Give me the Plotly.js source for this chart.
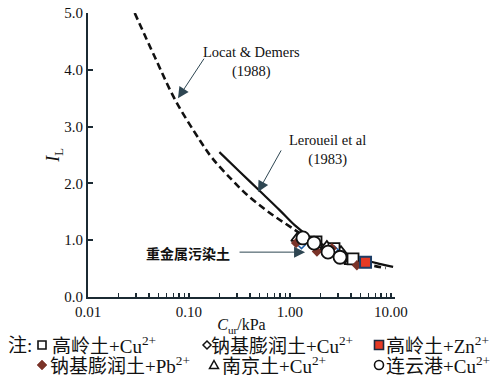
<!DOCTYPE html>
<html>
<head>
<meta charset="utf-8">
<script src="https://cdn.plot.ly/plotly-3.0.1.min.js"></script>
<style>html,body{margin:0;padding:0;background:#fff;}#chart{width:495px;height:376px;}</style>
</head>
<body>
<div id="chart"></div>
<script>
// ---- data ----
// Locat & Demers (1988), dashed curve
const locatCu = [0.029, 0.046, 0.073, 0.128, 0.169, 0.267, 0.375, 0.54, 0.73, 1.0, 1.5, 2.5, 4.0, 6.0, 8.9];
const locatIL = [5.0, 4.22, 3.47, 2.76, 2.45, 2.06, 1.80, 1.57, 1.40, 1.24, 1.03, 0.80, 0.66, 0.57, 0.51];
// Leroueil et al (1983), solid curve
const lerCu = [0.20, 0.316, 0.50, 0.79, 1.12, 1.58, 2.24, 3.16, 5.0, 7.9, 10.5];
const lerIL = [2.55, 2.21, 1.87, 1.53, 1.26, 1.05, 0.90, 0.79, 0.67, 0.58, 0.53];
// Heavy-metal contaminated soils
const kaoCuX = [1.81, 2.73, 4.21];           // 高岭土+Cu2+
const kaoCuY = [0.97, 0.85, 0.67];
const bentCuX = [1.30, 2.75];                // 钠基膨润土+Cu2+
const bentCuY = [0.92, 0.83];
const kaoZnX = [5.6];                        // 高岭土+Zn2+
const kaoZnY = [0.61];
const bentPbX = [1.15, 1.85, 2.6, 4.6];      // 钠基膨润土+Pb2+
const bentPbY = [0.95, 0.80, 0.86, 0.56];
const njX = [1.20, 2.32, 3.20, 4.02];        // 南京土+Cu2+
const njY = [1.04, 0.88, 0.79, 0.63];
const lygX = [1.345, 1.73, 2.38, 3.13];      // 连云港+Cu2+
const lygY = [1.04, 0.95, 0.79, 0.70];

const xMajor = [0.01, 0.1, 1, 10];
const xMajorText = ['0.01', '0.10', '1.00', '10.00'];
const xMinor = [0.02, 0.03, 0.04, 0.05, 0.06, 0.07, 0.08, 0.09,
                0.2, 0.3, 0.4, 0.5, 0.6, 0.7, 0.8, 0.9,
                2, 3, 4, 5, 6, 7, 8, 9];
const yTicks = [0, 1, 2, 3, 4, 5];
const yTickText = ['0.0', '1.0', '2.0', '3.0', '4.0', '5.0'];

const legendNames = ['高岭土+Cu<sup>2+</sup>', '钠基膨润土+Cu<sup>2+</sup>', '高岭土+Zn<sup>2+</sup>',
                     '钠基膨润土+Pb<sup>2+</sup>', '南京土+Cu<sup>2+</sup>', '连云港+Cu<sup>2+</sup>'];

// ---- layout helpers ----
const L = 88, R = 395, T = 13, B = 297;
const px = p => (p - L) / (R - L);
const py = p => (B - p) / (B - T);
const SERIF = 'Liberation Serif, Noto Sans CJK SC, serif';
const AX = '#1b2a33';

const traces = [
  {x: locatCu, y: locatIL, mode: 'lines', line: {color: '#111', width: 2.6, dash: '7px,4px', shape: 'spline', smoothing: 1}, hoverinfo: 'skip'},
  {x: lerCu, y: lerIL, mode: 'lines', line: {color: '#111', width: 2.2, shape: 'spline', smoothing: 1}, hoverinfo: 'skip'},
  {x: njX, y: njY, mode: 'markers', marker: {symbol: 'triangle-up', size: 12, color: 'white', line: {color: '#111', width: 1.8}}},
  {x: kaoCuX, y: kaoCuY, mode: 'markers', marker: {symbol: 'square', size: 11, color: 'white', line: {color: '#111', width: 1.8}}},
  {x: bentCuX, y: bentCuY, mode: 'markers', marker: {symbol: 'diamond', size: 6, color: 'white', line: {color: '#1f5fa8', width: 1.5}}},
  {x: bentPbX, y: bentPbY, mode: 'markers', marker: {symbol: 'diamond', size: 8, color: '#7a3328', line: {width: 0}}},
  {x: lygX, y: lygY, mode: 'markers', marker: {symbol: 'circle', size: 13, color: 'white', line: {color: '#111', width: 1.8}}},
  {x: kaoZnX, y: kaoZnY, mode: 'markers', marker: {symbol: 'square', size: 11, color: '#e63a25', line: {color: '#1c3d66', width: 2}}}
];

// legend markers (shapes, paper coords)
const shapes = [];
function sq(cx, cy, s, fill, line) {
  shapes.push({type: 'rect', xref: 'paper', yref: 'paper',
    x0: px(cx - s), x1: px(cx + s), y0: py(cy + s), y1: py(cy - s),
    fillcolor: fill, line: {color: line, width: 1.6}});
}
function dia(cx, cy, s, fill, line, lw) {
  shapes.push({type: 'path', xref: 'paper', yref: 'paper',
    path: `M${px(cx)},${py(cy - s)} L${px(cx + s)},${py(cy)} L${px(cx)},${py(cy + s)} L${px(cx - s)},${py(cy)} Z`,
    fillcolor: fill, line: {color: line, width: lw}});
}
function tri(cx, cy, s) {
  shapes.push({type: 'path', xref: 'paper', yref: 'paper',
    path: `M${px(cx)},${py(cy - s)} L${px(cx + s)},${py(cy + s * 0.8)} L${px(cx - s)},${py(cy + s * 0.8)} Z`,
    fillcolor: 'white', line: {color: '#111', width: 1.5}});
}
function circ(cx, cy, s) {
  shapes.push({type: 'circle', xref: 'paper', yref: 'paper',
    x0: px(cx - s), x1: px(cx + s), y0: py(cy + s), y1: py(cy - s),
    fillcolor: 'white', line: {color: '#111', width: 1.6}});
}
const r1 = 345, r2 = 365;
sq(42, r1, 4, 'white', '#111');
dia(207, r1, 4, 'white', '#111', 1.5);
sq(379, r1, 4.5, '#e63a25', '#1c2a40');
dia(42, r2, 5, '#7a3328', '#7a3328', 0.5);
tri(214, r2, 4.5);
circ(379, r2, 4.5);

const legFont = {family: SERIF, size: 19, color: '#111'};
function leg(x, y, text) {
  return {xref: 'paper', yref: 'paper', x: px(x), y: py(y), xanchor: 'left', yanchor: 'middle', text: text, showarrow: false, font: legFont, borderpad: 0};
}
function arrow(cu, il, ax, ay) {
  return {xref: 'x', yref: 'y', x: Math.log10(cu), y: il, ax: ax, ay: ay, text: '', showarrow: true,
          arrowhead: 2, arrowsize: 2.2, arrowwidth: 1, arrowcolor: '#2e4652'};
}
const annotations = [
  leg(7, r1, '注:'),
  leg(51, r1, legendNames[0]),
  leg(210, r1, legendNames[1]),
  leg(385, r1, legendNames[2]),
  leg(49, r2, legendNames[3]),
  leg(221, r2, legendNames[4]),
  leg(385, r2, legendNames[5]),
  // curve labels
  {xref: 'paper', yref: 'paper', x: px(251), y: py(62), xanchor: 'center', yanchor: 'middle', text: 'Locat & Demers<br>(1988)', showarrow: false, font: {family: SERIF, size: 14.5, color: '#111'}},
  {xref: 'paper', yref: 'paper', x: px(327), y: py(150), xanchor: 'center', yanchor: 'middle', text: 'Leroueil et al<br>(1983)', showarrow: false, font: {family: SERIF, size: 14.5, color: '#111'}},
  {xref: 'paper', yref: 'paper', x: px(188), y: py(253), xanchor: 'center', yanchor: 'middle', text: '<b>重金属污染土</b>', showarrow: false, font: {family: 'Noto Sans CJK SC', size: 14, color: '#111'}},
  // arrows
  arrow(0.0778, 3.50, 27, -41),
  arrow(0.482, 1.85, 24, -43),
  arrow(1.41, 0.79, -67, 0)
];

const layout = {
  width: 495, height: 376,
  margin: {l: L, r: 495 - R, t: T, b: 376 - B, pad: 0},
  paper_bgcolor: '#fff', plot_bgcolor: '#fff',
  showlegend: false,
  font: {family: SERIF, color: '#111'},
  xaxis: {
    type: 'log', range: [-2, 1.04], showgrid: false, zeroline: false,
    showline: true, linecolor: AX, linewidth: 2,
    tickmode: 'array', tickvals: xMajor, ticktext: xMajorText,
    ticks: 'inside', ticklen: 4, tickwidth: 1.5, tickcolor: AX,
    minor: {tickmode: 'array', tickvals: xMinor, ticks: 'inside', ticklen: 4, tickwidth: 1.5, tickcolor: AX, showgrid: false},
    tickfont: {family: SERIF, size: 15, color: '#111'},
    title: {text: '<i>C</i><sub>ur</sub>/kPa', font: {family: SERIF, size: 16, color: '#111'}, standoff: 0},
    automargin: false
  },
  yaxis: {
    range: [0, 5], showgrid: false, zeroline: false,
    showline: true, linecolor: AX, linewidth: 2,
    tickmode: 'array', tickvals: yTicks, ticktext: yTickText,
    ticks: 'inside', ticklen: 5, tickwidth: 2, tickcolor: AX,
    tickfont: {family: SERIF, size: 15, color: '#111'},
    title: {text: '<i>I</i><sub>L</sub>', font: {family: SERIF, size: 18, color: '#111'}, standoff: 0},
    automargin: false
  },
  shapes: shapes,
  annotations: annotations
};

Plotly.newPlot('chart', traces, layout, {staticPlot: true, displayModeBar: false});
</script>
</body>
</html>
